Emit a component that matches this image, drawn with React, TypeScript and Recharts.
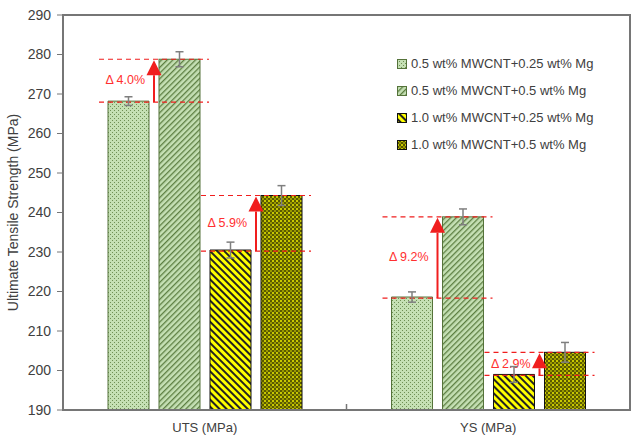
import { BarChart, Bar, XAxis, YAxis, ErrorBar, ReferenceArea } from "recharts";

const categories = ["UTS (MPa)", "YS (MPa)"];
const seriesNames = [
  "0.5 wt% MWCNT+0.25 wt% Mg",
  "0.5 wt% MWCNT+0.5 wt% Mg",
  "1.0 wt% MWCNT+0.25 wt% Mg",
  "1.0 wt% MWCNT+0.5 wt% Mg",
];
const s1 = [268.2, 218.6];
const s1Err = [1.1, 1.3];
const s2 = [278.8, 238.9];
const s2Err = [1.9, 2.0];
const s3 = [230.5, 199.0];
const s3Err = [2.0, 2.0];
const s4 = [244.3, 204.6];
const s4Err = [2.5, 2.5];
const deltaA = ["Δ 4.0%", "Δ 9.2%"]; // s1 -> s2
const deltaB = ["Δ 5.9%", "Δ 2.9%"]; // s3 -> s4
const yTicks = [190, 200, 210, 220, 230, 240, 250, 260, 270, 280, 290];

const Y_MIN = 190;
const PLOT_LEFT = 63;
const BAR_GAP = 10;
const FONT = "'Liberation Sans', Arial, sans-serif";
const RED = "#f01e1e";

const data = categories.map((c, i) => ({
  cat: c,
  s1: s1[i],
  s1e: s1Err[i],
  s2: s2[i],
  s2e: s2Err[i],
  s3: s3[i],
  s3e: s3Err[i],
  s4: s4[i],
  s4e: s4Err[i],
}));

const fills = ["url(#p1)", "url(#p2)", "url(#p3)", "url(#p4)"];
const strokes = ["#55733a", "#55733a", "#111", "#111"];

// bar + arrow annotation comparing with the bar just before it
const pairShape = (upperKey: string, lowerKey: string, labels: string[]) => (props: any) => {
  const { x, y, width, height, payload, index, fill, stroke } = props;
  const ppu = height / (payload[upperKey] - Y_MIN);
  const bottom = y + height;
  const lowY = bottom - (payload[lowerKey] - Y_MIN) * ppu;
  const lowX = x - width - BAR_GAP;
  const x1 = lowX - 9;
  const x2 = x + width + 9;
  const ax = x - BAR_GAP / 2;
  const headBase = y + 16;
  return (
    <g>
      <rect x={x} y={y} width={width} height={height} fill={fill} stroke={stroke} strokeWidth={1} />
      <line x1={x1} x2={x2} y1={y} y2={y} stroke={RED} strokeWidth={1.2} strokeDasharray="5 4" />
      <line x1={x1} x2={x2} y1={lowY + 1} y2={lowY + 1} stroke={RED} strokeWidth={1.2} strokeDasharray="5 4" />
      <line x1={ax} x2={ax} y1={lowY + 1} y2={headBase} stroke={RED} strokeWidth={2} />
      <polygon points={`${ax - 7.5},${headBase} ${ax + 7.5},${headBase} ${ax},${y + 1}`} fill={RED} />
      <text
        x={ax - 9}
        y={(y + lowY) / 2 + 1}
        textAnchor="end"
        dominantBaseline="middle"
        fontFamily={FONT}
        fontSize={12.5}
        fill="#ff3030"
      >
        {labels[index]}
      </text>
    </g>
  );
};

const XTick = (props: any) => {
  const { x, y, payload, index } = props;
  return (
    <g>
      {index === 0 && (
        <line x1={2 * x - PLOT_LEFT} x2={2 * x - PLOT_LEFT} y1={y - 14} y2={y - 8} stroke="#767676" strokeWidth={1.5} />
      )}
      <text x={x} y={y + 14} textAnchor="middle" fontFamily={FONT} fontSize={13} fill="#404040">
        {payload.value}
      </text>
    </g>
  );
};

const LegendBox = () => (
  <div
    style={{
      position: "absolute",
      left: 397,
      top: 50,
      fontFamily: FONT,
      fontSize: 13,
      color: "#404040",
      whiteSpace: "nowrap",
    }}
  >
    {seriesNames.map((n, i) => (
      <div key={n} style={{ height: 27, display: "flex", alignItems: "center" }}>
        <svg width={10} height={10} style={{ marginRight: 4 }}>
          <rect x={0.5} y={0.5} width={9} height={9} fill={fills[i]} stroke={strokes[i]} strokeWidth={1} />
        </svg>
        <span>{n}</span>
      </div>
    ))}
  </div>
);

export default function App() {
  return (
    <div style={{ position: "absolute", left: 0, top: 0, width: 633, height: 439, background: "#fff" }}>
      <BarChart
        width={633}
        height={439}
        data={data}
        margin={{ top: 15, right: 3, bottom: 0, left: 0 }}
        barSize={41}
        barGap={BAR_GAP}
      >
        <defs>
          <pattern id="p1" patternUnits="userSpaceOnUse" width={4} height={4}>
            <rect width={4} height={4} fill="#c5e0b4" />
            <rect x={0} y={0} width={1} height={1} fill="#6f8f55" />
            <rect x={2} y={2} width={1} height={1} fill="#6f8f55" />
          </pattern>
          <pattern id="p2" patternUnits="userSpaceOnUse" width={4} height={4} patternTransform="rotate(45)">
            <rect width={4} height={4} fill="#c5e0b4" />
            <rect x={0} y={0} width={1.3} height={4} fill="#5d7f42" />
          </pattern>
          <pattern id="p3" patternUnits="userSpaceOnUse" width={5} height={5} patternTransform="rotate(-45)">
            <rect width={5} height={5} fill="#ffff00" />
            <rect x={0} y={0} width={2} height={5} fill="#222" />
          </pattern>
          <pattern id="p4" patternUnits="userSpaceOnUse" width={4} height={4}>
            <rect width={4} height={4} fill="#5a5a00" />
            <rect x={0} y={0} width={2} height={2} fill="#c9c900" />
            <rect x={2} y={2} width={2} height={2} fill="#9a9a00" />
          </pattern>
        </defs>
        <ReferenceArea y1={190} y2={290} fill="none" stroke="#767676" strokeWidth={2} ifOverflow="visible" />
        <XAxis
          dataKey="cat"
          height={29}
          tickLine={false}
          axisLine={{ stroke: "#767676", strokeWidth: 2 }}
          tick={<XTick />}
          interval={0}
        />
        <YAxis
          width={63}
          domain={[190, 290]}
          ticks={yTicks}
          interval={0}
          allowDataOverflow
          tickSize={6}
          tickMargin={6}
          tickLine={{ stroke: "#767676" }}
          axisLine={{ stroke: "#767676", strokeWidth: 2 }}
          tick={{ fontFamily: FONT, fontSize: 14, fill: "#404040" }}
          label={({ viewBox }: any) => (
            <text
              x={viewBox.x + 14}
              y={viewBox.y + viewBox.height / 2}
              transform={`rotate(-90 ${viewBox.x + 14} ${viewBox.y + viewBox.height / 2})`}
              textAnchor="middle"
              dominantBaseline="middle"
              fontFamily={FONT}
              fontSize={14}
              fill="#404040"
            >
              Ultimate Tensile Strength (MPa)
            </text>
          )}
        />
        <Bar dataKey="s1" name={seriesNames[0]} fill={fills[0]} stroke={strokes[0]} isAnimationActive={false}>
          <ErrorBar dataKey="s1e" width={4} stroke="#7f7f7f" strokeWidth={1.5} direction="y" />
        </Bar>
        <Bar
          dataKey="s2"
          name={seriesNames[1]}
          fill={fills[1]}
          stroke={strokes[1]}
          isAnimationActive={false}
          shape={pairShape("s2", "s1", deltaA)}
        >
          <ErrorBar dataKey="s2e" width={4} stroke="#7f7f7f" strokeWidth={1.5} direction="y" />
        </Bar>
        <Bar dataKey="s3" name={seriesNames[2]} fill={fills[2]} stroke={strokes[2]} isAnimationActive={false}>
          <ErrorBar dataKey="s3e" width={4} stroke="#7f7f7f" strokeWidth={1.5} direction="y" />
        </Bar>
        <Bar
          dataKey="s4"
          name={seriesNames[3]}
          fill={fills[3]}
          stroke={strokes[3]}
          isAnimationActive={false}
          shape={pairShape("s4", "s3", deltaB)}
        >
          <ErrorBar dataKey="s4e" width={4} stroke="#7f7f7f" strokeWidth={1.5} direction="y" />
        </Bar>
      </BarChart>
      <LegendBox />
    </div>
  );
}
